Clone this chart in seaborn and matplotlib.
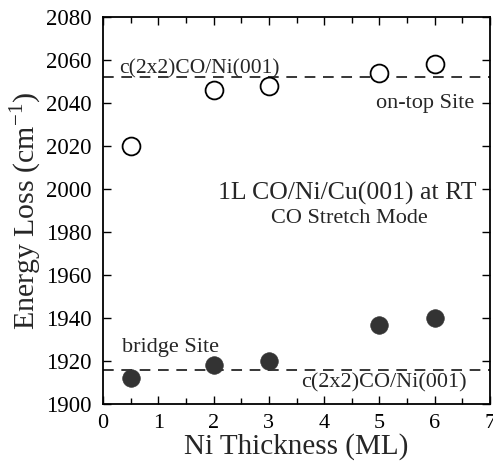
import matplotlib
matplotlib.use("Agg")
import matplotlib.pyplot as plt
import seaborn as sns
import pandas as pd
from matplotlib.ticker import MultipleLocator

sns.set_theme(style="ticks")
plt.rcParams['font.family'] = ['Liberation Serif', 'DejaVu Serif']
plt.rcParams['mathtext.fontset'] = 'custom'
plt.rcParams['mathtext.rm'] = 'Liberation Serif'

thickness = [0.5, 2, 3, 5, 6]
ontop = [2020, 2046, 2048, 2054, 2058]
bridge = [1912, 1918, 1920, 1937, 1940]
ref_ontop = 2052
ref_bridge = 1916

df_top = pd.DataFrame({"x": thickness, "y": ontop})
df_br = pd.DataFrame({"x": thickness, "y": bridge})

fig = plt.figure(figsize=(4.93, 4.63), dpi=100)
ax = fig.add_axes([0.209, 0.127, 0.785, 0.836])

ax.axhline(ref_ontop, color='black', lw=1.1, ls=(0, (7, 5)), zorder=1)
ax.axhline(ref_bridge, color='black', lw=1.1, ls=(0, (7, 5)), zorder=1)

sns.scatterplot(data=df_top, x="x", y="y", ax=ax, s=165, marker='o',
                facecolor='white', edgecolor='black', linewidth=1.3, zorder=3)
sns.scatterplot(data=df_br, x="x", y="y", ax=ax, s=160, marker='o',
                color='#333333', edgecolor='#333333', linewidth=0.5, zorder=3)

ax.set_xlim(0, 7)
ax.set_ylim(1900, 2080)
ax.xaxis.set_major_locator(MultipleLocator(1))
ax.xaxis.set_minor_locator(MultipleLocator(0.5))
ax.yaxis.set_major_locator(MultipleLocator(20))
ax.tick_params(which='both', direction='in', top=True, right=True,
               labelsize=16.5, colors='black', width=1)
ax.tick_params(axis='y', pad=8)
ax.tick_params(axis='x', pad=7, labelsize=16)
ax.tick_params(which='major', length=6)
ax.tick_params(which='minor', length=4)
for sp in ax.spines.values():
    sp.set_linewidth(1.3)
    sp.set_color('black')

ax.set_xlabel("Ni Thickness (ML)", fontsize=21, labelpad=0)
ax.set_ylabel("Energy Loss (cm$^{\\mathregular{-1}}$)", fontsize=21.5, labelpad=2)

ax.text(0.3, 2056, "c(2x2)CO/Ni(001)", fontsize=15.5, ha='left', va='center')
ax.text(6.71, 2040, "on-top Site", fontsize=16, ha='right', va='center')
ax.text(4.42, 1998, "1L CO/Ni/Cu(001) at RT", fontsize=18.5, ha='center', va='center')
ax.text(4.46, 1986.5, "CO Stretch Mode", fontsize=16, ha='center', va='center')
ax.text(0.34, 1926.5, "bridge Site", fontsize=16, ha='left', va='center')
ax.text(6.57, 1910, "c(2x2)CO/Ni(001)", fontsize=16, ha='right', va='center')

fig.savefig("out.png", dpi=100)
